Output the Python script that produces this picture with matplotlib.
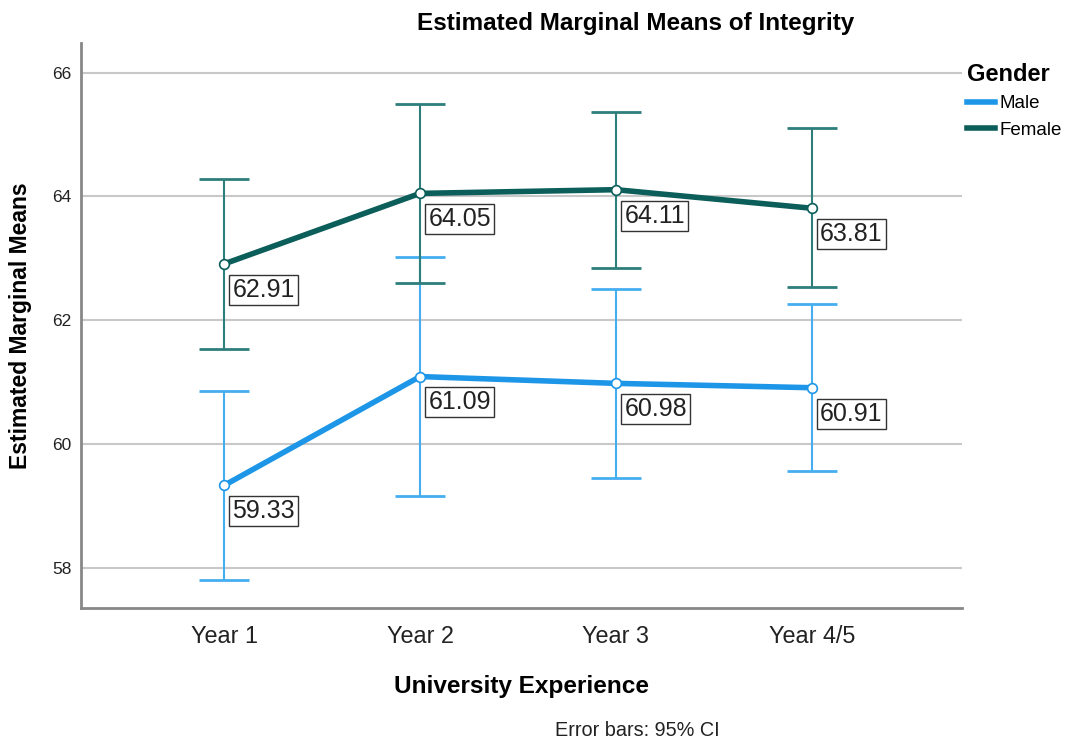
import numpy as np
import matplotlib.pyplot as plt

plt.rcParams['font.family'] = ['Liberation Sans', 'DejaVu Sans']

# data
years = ['Year 1', 'Year 2', 'Year 3', 'Year 4/5']
male_mean = [59.33, 61.09, 60.98, 60.91]
male_lo = [57.81, 59.16, 59.45, 59.56]
male_hi = [60.86, 63.02, 62.50, 62.27]
female_mean = [62.91, 64.05, 64.11, 63.81]
female_lo = [61.53, 62.61, 62.84, 62.53]
female_hi = [64.29, 65.50, 65.37, 65.10]

male_line = '#1e96e8'
male_err = '#45aef0'
fem_line = '#0b5e5a'
fem_err = '#2e7f7b'

fig = plt.figure(figsize=(10.77, 7.42), dpi=100)
ax = fig.add_axes([0.0752, 0.1806, 0.8178, 0.7614])

x = np.arange(len(years))

for mean, lo, hi, lc, ec, lab in [
        (male_mean, male_lo, male_hi, male_line, male_err, 'Male'),
        (female_mean, female_lo, female_hi, fem_line, fem_err, 'Female')]:
    mean = np.array(mean)
    yerr = [mean - np.array(lo), np.array(hi) - mean]
    ax.errorbar(x, mean, yerr=yerr, fmt='none', ecolor=ec, elinewidth=1.5,
                capsize=18, capthick=2, zorder=3)
    ax.plot(x, mean, color=lc, lw=4, zorder=4, label=lab)
    ax.plot(x, mean, 'o', ms=7, mfc='white', mec=lc, mew=1.2, zorder=5)
    for xi, m in zip(x, mean):
        ax.annotate(f'{m:.2f}', (xi, m), xytext=(6, -10), textcoords='offset points',
                    ha='left', va='top', fontsize=18, color='#222222',
                    bbox=dict(boxstyle='square,pad=0.12', fc='white', ec='#333333', lw=1),
                    zorder=6)

ax.set_xlim(-0.73, 3.765)
ax.set_ylim(57.35, 66.48)
ax.set_xticks(x)
ax.set_xticklabels(years, fontsize=16.8, color='#222222')
ax.set_yticks([58, 60, 62, 64, 66])
ax.tick_params(axis='y', labelsize=12.5, length=0, pad=7, labelcolor='#222222')
ax.tick_params(axis='x', length=0, pad=12)
ax.grid(axis='y', color='#c8c8c8', lw=1.5, zorder=0)
ax.set_axisbelow(True)
for s in ['top', 'right']:
    ax.spines[s].set_visible(False)
for s in ['left', 'bottom']:
    ax.spines[s].set_color('#888888')
    ax.spines[s].set_linewidth(2)

ax.set_xlabel('University Experience', fontsize=17.6, fontweight='bold', labelpad=20)
ax.set_ylabel('Estimated Marginal Means', fontsize=16.5, fontweight='bold', labelpad=14)

fig.text(0.59, 0.968, 'Estimated Marginal Means of Integrity', ha='center', va='center',
         fontsize=17.5, fontweight='bold')
fig.text(0.592, 0.016, 'Error bars: 95% CI', ha='center', va='center', fontsize=14.3,
         color='#222222')

leg = ax.legend(loc='upper left', bbox_to_anchor=(0.993, 0.985), frameon=False,
                title='Gender', fontsize=13.5, handlelength=1.5, handletextpad=0.25,
                labelspacing=0.5, borderaxespad=0.2)
leg.get_title().set_fontweight('bold')
leg.get_title().set_fontsize(17)
leg._legend_box.align = 'left'
for h in leg.get_lines():
    h.set_linewidth(4)

fig.savefig('out.png', dpi=100)
